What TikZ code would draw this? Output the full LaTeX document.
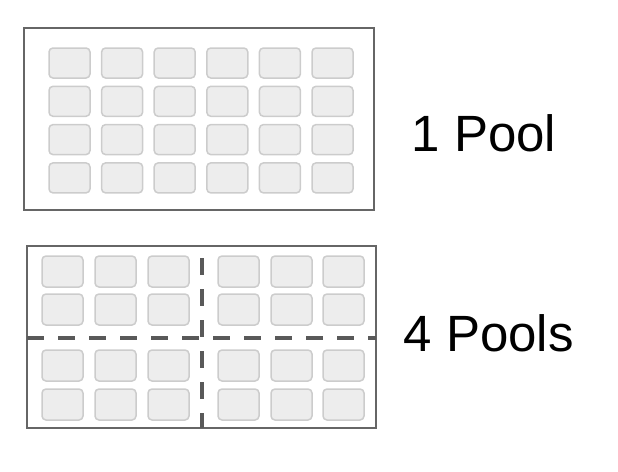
\documentclass[tikz,border=0pt]{standalone}
\usepackage{fontspec}
\setmainfont{Liberation Sans}
\begin{document}
\begin{tikzpicture}[x=1pt,y=-1pt,
  frame/.style={draw=black!60,line width=1.5pt},
  cell/.style={draw=black!20,fill=black!7,line width=1.5pt,rounded corners=4pt},
  divider/.style={draw=black!65,line width=3.5pt,dash pattern=on 17pt off 14pt},
  lbl/.style={font=\fontsize{51}{58}\selectfont,anchor=west}]
\useasboundingbox (0,0) rectangle (618,471);
\draw[frame] (24,28) rectangle (374,210);
\foreach \c in {0,...,5}{\foreach \r in {0,...,3}{
  \draw[cell] ({49+52.6*\c},{48+38.3*\r}) rectangle +(41,30);}}
\node[lbl] (p1) at (408,133) {1 Pool};
\draw[frame] (27,246) rectangle (376,428);
\foreach \x in {42,95,148,218,271,323}{\foreach \y in {256,294,350,389}{
  \draw[cell] (\x,\y) rectangle +(41,31);}}
\coordinate (vt) at (202,258); \coordinate (vb) at (202,428);
\coordinate (hl) at (27,338); \coordinate (hr) at (376,338);
\draw[divider] (vt) -- (vb);
\draw[divider] (hl) -- (hr);
\node[lbl] (p4) at (400,333) {4 Pools};
\end{tikzpicture}
\end{document}
